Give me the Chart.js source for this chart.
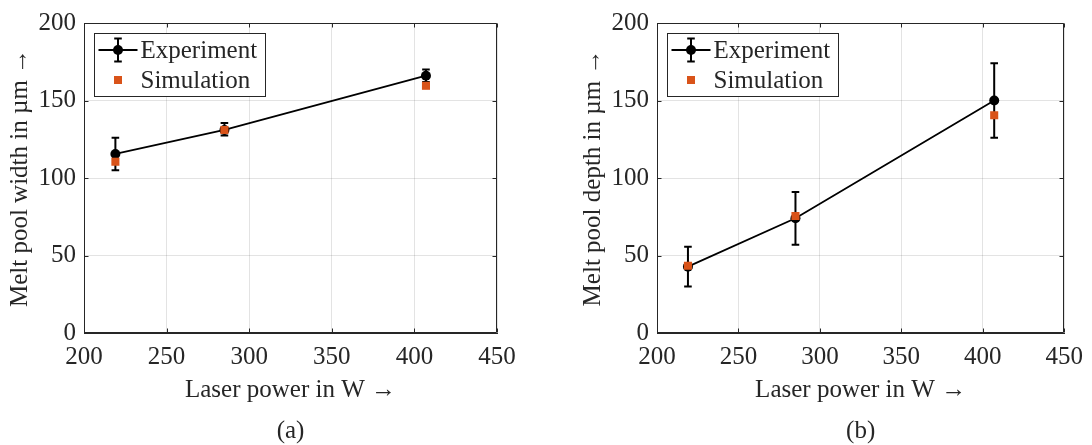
<!DOCTYPE html>
<html>
<head>
<meta charset="utf-8">
<script src="https://cdn.jsdelivr.net/npm/chart.js@4/dist/chart.umd.min.js"></script>
<style>
  html, body { margin: 0; padding: 0; background: #fff; }
  #wrap { position: relative; width: 1092px; height: 445px; }
  canvas { position: absolute; top: 0; }
</style>
</head>
<body>
<div id="wrap">
  <canvas id="cA" width="546" height="445" style="left:0;width:546px;height:445px"></canvas>
  <canvas id="cB" width="546" height="445" style="left:546px;width:546px;height:445px"></canvas>
</div>
<script>
// ---------- data ----------
const laserPower = [219, 285, 407];
const xTicks = [200, 250, 300, 350, 400, 450];
const yTicks = [0, 50, 100, 150, 200];

const widthExp     = [115.5, 131, 166];
const widthExpLow  = [105, 127.5, 162];
const widthExpHigh = [126, 135.5, 170];
const widthSim     = [110.5, 131, 159.5];

const depthExp     = [42.8, 74, 150];
const depthExpLow  = [30, 57, 126];
const depthExpHigh = [55.7, 91, 174];
const depthSim     = [43.4, 75.5, 140.5];

const seriesLabels = ['Experiment', 'Simulation'];
const panelLabels = ['(a)', '(b)'];
const yTitles = ['Melt pool width in µm →', 'Melt pool depth in µm →'];
const xTitle = 'Laser power in W →';

// ---------- styling ----------
const FONT = "'Liberation Serif', 'Times New Roman', serif";
const TXT = '#262626';
const GRID = 'rgba(38,38,38,0.13)';
const ORANGE = '#D95319';

// error bars (drawn through the scales)
const errorBarPlugin = {
  id: 'errorBars',
  beforeDatasetsDraw(chart) {
    const ctx = chart.ctx, xs = chart.scales.x, ys = chart.scales.y;
    chart.data.datasets.forEach(ds => {
      if (!ds.errLow) return;
      ctx.save();
      ctx.strokeStyle = '#000';
      ctx.lineWidth = 2;
      ds.data.forEach((p, i) => {
        const x = xs.getPixelForValue(p.x);
        const y1 = ys.getPixelForValue(ds.errLow[i]);
        const y2 = ys.getPixelForValue(ds.errHigh[i]);
        ctx.beginPath();
        ctx.moveTo(x, y1); ctx.lineTo(x, y2);
        ctx.moveTo(x - 3.8, y1); ctx.lineTo(x + 3.8, y1);
        ctx.moveTo(x - 3.8, y2); ctx.lineTo(x + 3.8, y2);
        ctx.stroke();
      });
      ctx.restore();
    });
  }
};

// box, inward ticks and legend
const framePlugin = {
  id: 'frame',
  afterDatasetsDraw(chart) {
    const ctx = chart.ctx, a = chart.chartArea;
    const xs = chart.scales.x, ys = chart.scales.y;
    ctx.save();
    ctx.strokeStyle = TXT;
    ctx.lineWidth = 1;
    const L = Math.round(a.left) + 0.5, R = Math.round(a.right) - 0.5;
    const T = Math.round(a.top) + 0.5, B = Math.round(a.bottom) - 0.5;
    ctx.beginPath();
    ctx.rect(L, T, R - L, B - T);
    const tl = 4;
    xs.ticks.forEach(t => {
      const x = Math.round(xs.getPixelForValue(t.value)) + 0.5;
      ctx.moveTo(x, B); ctx.lineTo(x, B - tl);
      ctx.moveTo(x, T); ctx.lineTo(x, T + tl);
    });
    ys.ticks.forEach(t => {
      const y = Math.round(ys.getPixelForValue(t.value)) + 0.5;
      ctx.moveTo(L, y); ctx.lineTo(L + tl, y);
      ctx.moveTo(R, y); ctx.lineTo(R - tl, y);
    });
    ctx.stroke();

    // legend
    const x0 = L + 10, y0 = T + 10, w = 171, h = 63;
    ctx.fillStyle = '#fff';
    ctx.fillRect(x0, y0, w, h);
    ctx.strokeStyle = TXT;
    ctx.strokeRect(x0, y0, w, h);
    const dsE = chart.data.datasets[0], dsS = chart.data.datasets[1];
    const mx = x0 + 23.5;
    const r1 = y0 + 16.5, r2 = y0 + 46.5;
    ctx.strokeStyle = '#000';
    ctx.lineWidth = 1.8;
    ctx.beginPath();
    ctx.moveTo(x0 + 4, r1); ctx.lineTo(x0 + 43, r1);
    ctx.stroke();
    ctx.lineWidth = 2;
    ctx.beginPath();
    ctx.moveTo(mx, r1 - 11.5); ctx.lineTo(mx, r1 + 11.5);
    ctx.moveTo(mx - 3.8, r1 - 11.5); ctx.lineTo(mx + 3.8, r1 - 11.5);
    ctx.moveTo(mx - 3.8, r1 + 11.5); ctx.lineTo(mx + 3.8, r1 + 11.5);
    ctx.stroke();
    ctx.fillStyle = '#000';
    ctx.beginPath(); ctx.arc(mx, r1, 5, 0, Math.PI * 2); ctx.fill();
    ctx.fillStyle = ORANGE;
    ctx.fillRect(mx - 4, r2 - 4, 8, 8);
    ctx.fillStyle = TXT;
    ctx.font = '25px ' + FONT;
    ctx.textBaseline = 'middle';
    ctx.textAlign = 'left';
    ctx.fillText(dsE.label, x0 + 46, r1 + 1);
    ctx.fillText(dsS.label, x0 + 46, r2 + 1);
    ctx.restore();
  }
};

function makeChart(id, idx, exp, low, high, sim, padLeft, padRight) {
  const expData = laserPower.map((x, i) => ({ x, y: exp[i] }));
  const simData = laserPower.map((x, i) => ({ x, y: sim[i] }));
  return new Chart(document.getElementById(id), {
    type: 'scatter',
    data: {
      datasets: [
        {
          label: seriesLabels[0], data: expData, errLow: low, errHigh: high,
          showLine: true, borderColor: '#000', borderWidth: 1.8,
          pointRadius: 5, pointBackgroundColor: '#000', pointBorderWidth: 0,
          pointStyle: 'circle', order: 1
        },
        {
          label: seriesLabels[1], data: simData, showLine: false,
          pointStyle: 'rect', pointRadius: 5.7, pointBackgroundColor: ORANGE,
          pointBorderWidth: 0, borderColor: ORANGE, order: 0
        }
      ]
    },
    options: {
      responsive: false, animation: false, devicePixelRatio: 1,
      layout: { padding: { left: padLeft, right: padRight, top: 23, bottom: 0 } },
      plugins: { legend: { display: false }, tooltip: { enabled: false } },
      scales: {
        x: {
          type: 'linear', min: 200, max: 450,
          afterBuildTicks: s => { s.ticks = xTicks.map(v => ({ value: v })); },
          afterFit: s => { s.height = 112; },
          grid: { color: GRID, lineWidth: 1, drawTicks: false },
          border: { display: true, color: TXT, width: 1 },
          ticks: { color: TXT, font: { family: FONT, size: 25 }, padding: 9, maxRotation: 0 },
          title: {
            display: true, text: [xTitle, panelLabels[idx]], color: TXT,
            font: { family: FONT, size: 25, lineHeight: 1.64 },
            padding: { top: 0, bottom: -6.5 }
          }
        },
        y: {
          type: 'linear', min: 0, max: 200,
          afterBuildTicks: s => { s.ticks = yTicks.map(v => ({ value: v })); },
          afterFit: s => { s.width = 84; },
          grid: { color: GRID, lineWidth: 1, drawTicks: false },
          border: { display: true, color: TXT, width: 1 },
          ticks: { color: TXT, font: { family: FONT, size: 25 }, padding: 8 },
          title: {
            display: true, text: yTitles[idx], color: TXT,
            font: { family: FONT, size: 25, lineHeight: 1.2 },
            padding: { top: 5, bottom: 0 }
          }
        }
      }
    },
    plugins: [errorBarPlugin, framePlugin]
  });
}

makeChart('cA', 0, widthExp, widthExpLow, widthExpHigh, widthSim, 0, 49);
makeChart('cB', 1, depthExp, depthExpLow, depthExpHigh, depthSim, 27, 21);
</script>
</body>
</html>
